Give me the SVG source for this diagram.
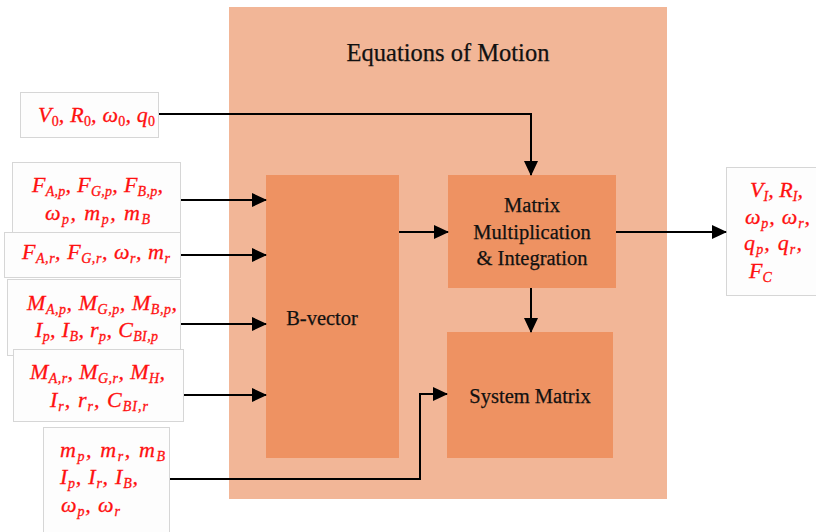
<svg xmlns="http://www.w3.org/2000/svg" width="816" height="532" viewBox="0 0 816 532">
  <style>
    .panel{fill:#f2b697}
    .blk{fill:#ee9262}
    .inbox{fill:#fdfdfd;stroke:#d6d6d6;stroke-width:1}
    .lbl{font-family:"Liberation Serif","Times New Roman",serif;font-size:20.5px;fill:#111;stroke:#111;stroke-width:0.25;text-anchor:middle}
    .m{font-family:"Liberation Serif","Times New Roman",serif;font-style:italic;font-size:22px;fill:#ff1010;stroke:#ff1010;stroke-width:0.3}
    .s{font-size:14px;baseline-shift:-4px}
    .u{font-style:normal}
    .wire{fill:none;stroke:#000;stroke-width:2}
  </style>
  <defs>
    <marker id="arrow" markerUnits="userSpaceOnUse" markerWidth="15" markerHeight="14" refX="14" refY="7" orient="auto">
      <path d="M0,0 L15,7 L0,14 z" fill="#000"/>
    </marker>
  </defs>

  <rect width="816" height="532" fill="#fff"/>

  <!-- Equations of Motion panel -->
  <g id="eom">
    <rect class="panel" x="229" y="7" width="438" height="492"/>
    <text class="lbl" x="448" y="61" style="font-size:24.5px">Equations of Motion</text>
  </g>

  <g id="bvector">
    <rect class="blk" x="266" y="175" width="133" height="283"/>
    <text class="lbl" x="322" y="325">B-vector</text>
  </g>

  <g id="matmul">
    <rect class="blk" x="448" y="175" width="168" height="113"/>
    <text class="lbl" x="532" y="212">Matrix</text>
    <text class="lbl" x="532" y="239">Multiplication</text>
    <text class="lbl" x="532" y="265">&amp; Integration</text>
  </g>

  <g id="sysmat">
    <rect class="blk" x="447" y="332" width="166" height="126"/>
    <text class="lbl" x="530" y="403">System Matrix</text>
  </g>

  <!-- inputs -->
  <g id="in-initial">
    <rect class="inbox" x="20.5" y="92.5" width="138" height="45"/>
    <text class="m" x="38" y="122" textLength="117">V<tspan class="s u">0</tspan>, R<tspan class="s u">0</tspan>, ω<tspan class="s u">0</tspan>, q<tspan class="s u">0</tspan></text>
  </g>

  <g id="in-forces-p">
    <rect class="inbox" x="12.5" y="162.5" width="168" height="72"/>
    <text class="m" x="32" y="192" textLength="131">F<tspan class="s">A,p</tspan>, F<tspan class="s">G,p</tspan>, F<tspan class="s">B,p</tspan>,</text>
    <text class="m" x="45" y="220" textLength="105">ω<tspan class="s">p</tspan>, m<tspan class="s">p</tspan>, m<tspan class="s">B</tspan></text>
  </g>

  <g id="in-forces-r">
    <rect class="inbox" x="4.5" y="232.5" width="176" height="45"/>
    <text class="m" x="22" y="259" textLength="148">F<tspan class="s">A,r</tspan>, F<tspan class="s">G,r</tspan>, ω<tspan class="s">r</tspan>, m<tspan class="s">r</tspan></text>
  </g>

  <g id="in-moments-p">
    <rect class="inbox" x="7.5" y="279.5" width="173" height="76"/>
    <text class="m" x="27" y="310" textLength="150">M<tspan class="s">A,p</tspan>, M<tspan class="s">G,p</tspan>, M<tspan class="s">B,p</tspan>,</text>
    <text class="m" x="35" y="337" textLength="123">I<tspan class="s">p</tspan>, I<tspan class="s">B</tspan>, r<tspan class="s">p</tspan>, C<tspan class="s">BI,p</tspan></text>
  </g>

  <g id="in-moments-r">
    <rect class="inbox" x="13.5" y="349.5" width="170" height="72"/>
    <text class="m" x="30" y="379" textLength="135">M<tspan class="s">A,r</tspan>, M<tspan class="s">G,r</tspan>, M<tspan class="s">H</tspan>,</text>
    <text class="m" x="50" y="407" textLength="98">I<tspan class="s">r</tspan>, r<tspan class="s">r</tspan>, C<tspan class="s">BI,r</tspan></text>
  </g>

  <g id="in-inertia">
    <rect class="inbox" x="43.5" y="427.5" width="126" height="110"/>
    <text class="m" x="60" y="457" textLength="105">m<tspan class="s">p</tspan>, m<tspan class="s">r</tspan>, m<tspan class="s">B</tspan></text>
    <text class="m" x="60" y="484" textLength="78">I<tspan class="s">p</tspan>, I<tspan class="s">r</tspan>, I<tspan class="s">B</tspan>,</text>
    <text class="m" x="61" y="512" textLength="59">ω<tspan class="s">p</tspan>, ω<tspan class="s">r</tspan></text>
  </g>

  <!-- outputs -->
  <g id="out-state">
    <rect class="inbox" x="726.5" y="167.5" width="100" height="128"/>
    <text class="m" x="750" y="197" textLength="53">V<tspan class="s">I</tspan>, R<tspan class="s">I</tspan>,</text>
    <text class="m" x="745" y="224" textLength="65">ω<tspan class="s">p</tspan>, ω<tspan class="s">r</tspan>,</text>
    <text class="m" x="744" y="250" textLength="58">q<tspan class="s">p</tspan>, q<tspan class="s">r</tspan>,</text>
    <text class="m" x="749" y="278">F<tspan class="s">C</tspan></text>
  </g>

  <!-- connectors -->
  <g id="connectors">
    <path class="wire" d="M159,114 H531 V175" marker-end="url(#arrow)"/>
    <path class="wire" d="M181,200 H266" marker-end="url(#arrow)"/>
    <path class="wire" d="M181,255 H266" marker-end="url(#arrow)"/>
    <path class="wire" d="M181,324 H266" marker-end="url(#arrow)"/>
    <path class="wire" d="M184,395 H266" marker-end="url(#arrow)"/>
    <path class="wire" d="M170,479 H420 V394 H447" marker-end="url(#arrow)"/>
    <path class="wire" d="M399,232 H448" marker-end="url(#arrow)"/>
    <path class="wire" d="M531,288 V332" marker-end="url(#arrow)"/>
    <path class="wire" d="M616,232 H726" marker-end="url(#arrow)"/>
  </g>
</svg>
